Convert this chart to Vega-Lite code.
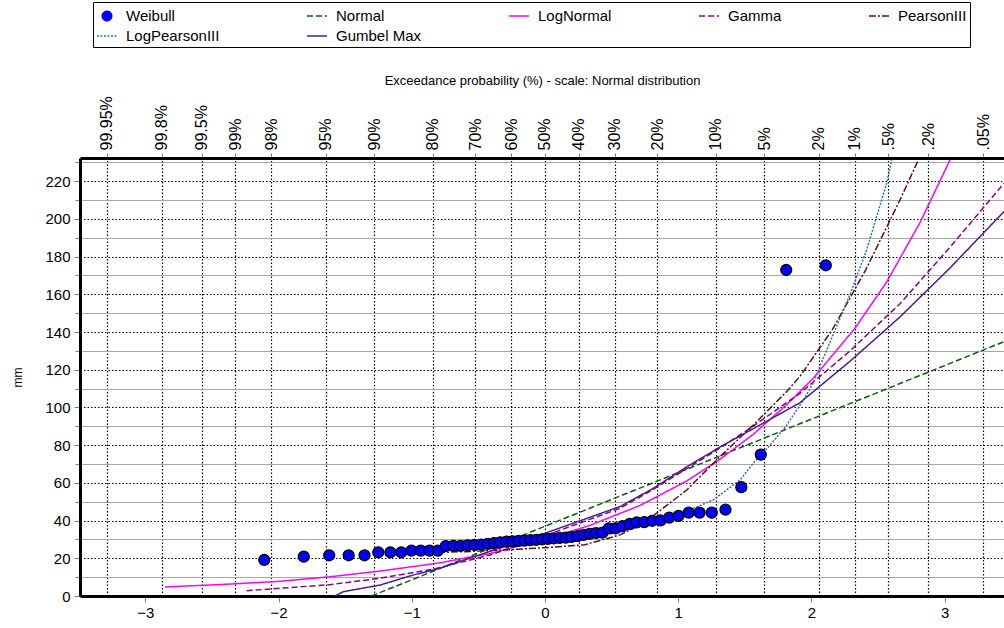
{
  "$schema": "https://vega.github.io/schema/vega-lite/v6.json",
  "width": 924,
  "height": 438,
  "autosize": {"type": "none"},
  "padding": {"left": 80, "top": 158, "right": 0, "bottom": 32},
  "config": {
    "font": "Liberation Sans",
    "view": {"stroke": null},
    "axis": {"labelColor": "black", "titleColor": "black", "labelFont": "Liberation Sans", "titleFont": "Liberation Sans"}
  },
  "datasets": {
    "weibull": [
      {"series": "Weibull", "z": -2.108, "mm": 19.1},
      {"series": "Weibull", "z": -1.811, "mm": 20.9},
      {"series": "Weibull", "z": -1.620, "mm": 21.6},
      {"series": "Weibull", "z": -1.474, "mm": 21.6},
      {"series": "Weibull", "z": -1.355, "mm": 21.6},
      {"series": "Weibull", "z": -1.252, "mm": 23.2},
      {"series": "Weibull", "z": -1.161, "mm": 23.2},
      {"series": "Weibull", "z": -1.079, "mm": 23.2},
      {"series": "Weibull", "z": -1.003, "mm": 24.1},
      {"series": "Weibull", "z": -0.933, "mm": 24.1},
      {"series": "Weibull", "z": -0.867, "mm": 24.1},
      {"series": "Weibull", "z": -0.805, "mm": 24.1},
      {"series": "Weibull", "z": -0.745, "mm": 26.5},
      {"series": "Weibull", "z": -0.688, "mm": 26.6},
      {"series": "Weibull", "z": -0.634, "mm": 26.6},
      {"series": "Weibull", "z": -0.581, "mm": 26.9},
      {"series": "Weibull", "z": -0.529, "mm": 27.1},
      {"series": "Weibull", "z": -0.479, "mm": 27.3},
      {"series": "Weibull", "z": -0.431, "mm": 27.6},
      {"series": "Weibull", "z": -0.383, "mm": 28.1},
      {"series": "Weibull", "z": -0.336, "mm": 28.5},
      {"series": "Weibull", "z": -0.290, "mm": 28.8},
      {"series": "Weibull", "z": -0.244, "mm": 29.0},
      {"series": "Weibull", "z": -0.199, "mm": 29.2},
      {"series": "Weibull", "z": -0.155, "mm": 29.4},
      {"series": "Weibull", "z": -0.110, "mm": 29.6},
      {"series": "Weibull", "z": -0.066, "mm": 29.8},
      {"series": "Weibull", "z": -0.022, "mm": 30.0},
      {"series": "Weibull", "z": 0.022, "mm": 30.3},
      {"series": "Weibull", "z": 0.066, "mm": 30.6},
      {"series": "Weibull", "z": 0.110, "mm": 30.8},
      {"series": "Weibull", "z": 0.155, "mm": 31.0},
      {"series": "Weibull", "z": 0.199, "mm": 31.3},
      {"series": "Weibull", "z": 0.244, "mm": 31.7},
      {"series": "Weibull", "z": 0.290, "mm": 32.4},
      {"series": "Weibull", "z": 0.336, "mm": 33.0},
      {"series": "Weibull", "z": 0.383, "mm": 33.4},
      {"series": "Weibull", "z": 0.431, "mm": 33.6},
      {"series": "Weibull", "z": 0.479, "mm": 35.9},
      {"series": "Weibull", "z": 0.529, "mm": 35.9},
      {"series": "Weibull", "z": 0.581, "mm": 37.0},
      {"series": "Weibull", "z": 0.634, "mm": 38.2},
      {"series": "Weibull", "z": 0.688, "mm": 39.0},
      {"series": "Weibull", "z": 0.745, "mm": 39.2},
      {"series": "Weibull", "z": 0.805, "mm": 39.9},
      {"series": "Weibull", "z": 0.867, "mm": 40.1},
      {"series": "Weibull", "z": 0.933, "mm": 41.6},
      {"series": "Weibull", "z": 1.003, "mm": 42.5},
      {"series": "Weibull", "z": 1.079, "mm": 44.2},
      {"series": "Weibull", "z": 1.161, "mm": 44.2},
      {"series": "Weibull", "z": 1.252, "mm": 44.2},
      {"series": "Weibull", "z": 1.355, "mm": 45.8},
      {"series": "Weibull", "z": 1.474, "mm": 57.7},
      {"series": "Weibull", "z": 1.620, "mm": 75.0},
      {"series": "Weibull", "z": 1.811, "mm": 172.9},
      {"series": "Weibull", "z": 2.108, "mm": 175.4}
    ],
    "curves": [
      {"series": "Normal", "z": -1.303, "mm": 0},
      {"series": "Normal", "z": -1.0, "mm": 8.6},
      {"series": "Normal", "z": 0.0, "mm": 37.0},
      {"series": "Normal", "z": 1.0, "mm": 65.4},
      {"series": "Normal", "z": 2.0, "mm": 93.8},
      {"series": "Normal", "z": 3.0, "mm": 122.2},
      {"series": "Normal", "z": 3.446, "mm": 134.9},

      {"series": "LogNormal", "z": -2.853, "mm": 4.8},
      {"series": "LogNormal", "z": -2.4, "mm": 6.2},
      {"series": "LogNormal", "z": -1.989, "mm": 7.8},
      {"series": "LogNormal", "z": -1.614, "mm": 10.2},
      {"series": "LogNormal", "z": -1.239, "mm": 13.2},
      {"series": "LogNormal", "z": -0.788, "mm": 17.6},
      {"series": "LogNormal", "z": -0.413, "mm": 22.6},
      {"series": "LogNormal", "z": 0.0, "mm": 30.0},
      {"series": "LogNormal", "z": 0.338, "mm": 37.5},
      {"series": "LogNormal", "z": 0.713, "mm": 48.0},
      {"series": "LogNormal", "z": 1.064, "mm": 61.0},
      {"series": "LogNormal", "z": 1.314, "mm": 72.5},
      {"series": "LogNormal", "z": 1.564, "mm": 85.8},
      {"series": "LogNormal", "z": 1.815, "mm": 101.5},
      {"series": "LogNormal", "z": 2.014, "mm": 115.5},
      {"series": "LogNormal", "z": 2.327, "mm": 142.0},
      {"series": "LogNormal", "z": 2.565, "mm": 166.5},
      {"series": "LogNormal", "z": 2.815, "mm": 198.0},
      {"series": "LogNormal", "z": 3.041, "mm": 231.3},

      {"series": "Gamma", "z": -2.24, "mm": 2.8},
      {"series": "Gamma", "z": -1.989, "mm": 4.1},
      {"series": "Gamma", "z": -1.614, "mm": 6.0},
      {"series": "Gamma", "z": -1.239, "mm": 9.4},
      {"series": "Gamma", "z": -0.841, "mm": 14.2},
      {"series": "Gamma", "z": -0.4, "mm": 22.0},
      {"series": "Gamma", "z": 0.0, "mm": 32.0},
      {"series": "Gamma", "z": 0.563, "mm": 46.5},
      {"series": "Gamma", "z": 0.811, "mm": 56.5},
      {"series": "Gamma", "z": 1.064, "mm": 67.5},
      {"series": "Gamma", "z": 1.314, "mm": 78.5},
      {"series": "Gamma", "z": 1.562, "mm": 90.0},
      {"series": "Gamma", "z": 1.914, "mm": 107.5},
      {"series": "Gamma", "z": 2.29, "mm": 130.0},
      {"series": "Gamma", "z": 2.665, "mm": 155.0},
      {"series": "Gamma", "z": 3.041, "mm": 185.0},
      {"series": "Gamma", "z": 3.446, "mm": 218.9},

      {"series": "PearsonIII", "z": -0.9, "mm": 22.8},
      {"series": "PearsonIII", "z": -0.5, "mm": 23.8},
      {"series": "PearsonIII", "z": -0.2, "mm": 24.8},
      {"series": "PearsonIII", "z": 0.04, "mm": 25.8},
      {"series": "PearsonIII", "z": 0.3, "mm": 27.2},
      {"series": "PearsonIII", "z": 0.563, "mm": 32.4},
      {"series": "PearsonIII", "z": 0.713, "mm": 37.5},
      {"series": "PearsonIII", "z": 0.811, "mm": 42.5},
      {"series": "PearsonIII", "z": 1.064, "mm": 56.2},
      {"series": "PearsonIII", "z": 1.314, "mm": 73.9},
      {"series": "PearsonIII", "z": 1.562, "mm": 90.5},
      {"series": "PearsonIII", "z": 1.815, "mm": 108.5},
      {"series": "PearsonIII", "z": 1.914, "mm": 116.5},
      {"series": "PearsonIII", "z": 2.155, "mm": 141.0},
      {"series": "PearsonIII", "z": 2.408, "mm": 173.0},
      {"series": "PearsonIII", "z": 2.665, "mm": 210.0},
      {"series": "PearsonIII", "z": 2.803, "mm": 231.3},

      {"series": "LogPearsonIII", "z": -0.9, "mm": 24.5},
      {"series": "LogPearsonIII", "z": -0.5, "mm": 26.0},
      {"series": "LogPearsonIII", "z": 0.0, "mm": 28.5},
      {"series": "LogPearsonIII", "z": 0.3, "mm": 30.5},
      {"series": "LogPearsonIII", "z": 0.563, "mm": 34.0},
      {"series": "LogPearsonIII", "z": 0.811, "mm": 38.5},
      {"series": "LogPearsonIII", "z": 1.064, "mm": 45.0},
      {"series": "LogPearsonIII", "z": 1.264, "mm": 51.0},
      {"series": "LogPearsonIII", "z": 1.464, "mm": 61.5},
      {"series": "LogPearsonIII", "z": 1.564, "mm": 70.5},
      {"series": "LogPearsonIII", "z": 1.689, "mm": 80.0},
      {"series": "LogPearsonIII", "z": 1.814, "mm": 90.5},
      {"series": "LogPearsonIII", "z": 1.94, "mm": 104.0},
      {"series": "LogPearsonIII", "z": 2.014, "mm": 113.0},
      {"series": "LogPearsonIII", "z": 2.065, "mm": 122.0},
      {"series": "LogPearsonIII", "z": 2.29, "mm": 160.0},
      {"series": "LogPearsonIII", "z": 2.415, "mm": 183.6},
      {"series": "LogPearsonIII", "z": 2.565, "mm": 218.9},
      {"series": "LogPearsonIII", "z": 2.603, "mm": 231.3},

      {"series": "Gumbel Max", "z": -1.577, "mm": 0},
      {"series": "Gumbel Max", "z": -1.514, "mm": 2.3},
      {"series": "Gumbel Max", "z": -1.239, "mm": 5.8},
      {"series": "Gumbel Max", "z": -0.991, "mm": 11.1},
      {"series": "Gumbel Max", "z": -0.788, "mm": 14.7},
      {"series": "Gumbel Max", "z": -0.4, "mm": 24.0},
      {"series": "Gumbel Max", "z": 0.0, "mm": 33.3},
      {"series": "Gumbel Max", "z": 0.563, "mm": 47.4},
      {"series": "Gumbel Max", "z": 0.811, "mm": 57.0},
      {"series": "Gumbel Max", "z": 1.064, "mm": 68.5},
      {"series": "Gumbel Max", "z": 1.314, "mm": 79.0},
      {"series": "Gumbel Max", "z": 1.637, "mm": 91.6},
      {"series": "Gumbel Max", "z": 1.914, "mm": 102.5},
      {"series": "Gumbel Max", "z": 2.29, "mm": 124.5},
      {"series": "Gumbel Max", "z": 2.665, "mm": 148.0},
      {"series": "Gumbel Max", "z": 3.041, "mm": 174.0},
      {"series": "Gumbel Max", "z": 3.446, "mm": 203.9}
    ]
  },
  "layer": [
    {
      "data": {"name": "weibull"},
      "mark": {"type": "point", "opacity": 0},
      "encoding": {
        "x": {
          "field": "z", "type": "quantitative",
          "scale": {"domain": [-3.491, 3.446], "nice": false, "zero": false},
          "axis": {
            "orient": "top",
            "values": [-3.2905, -2.8782, -2.5758, -2.3263, -2.0537, -1.6449, -1.2816, -0.8416, -0.5244, -0.2533, 0, 0.2533, 0.5244, 0.8416, 1.2816, 1.6449, 2.0537, 2.3263, 2.5758, 2.8782, 3.2905],
            "labelExpr": "replace('' + round((1 - cumulativeNormal(datum.value)) * 10000) / 100, '0.', '.') + '%'",
            "labelAngle": 270,
            "labelAlign": "left",
            "labelBaseline": "middle",
            "labelFontSize": 16,
            "labelPadding": 3,
            "labelOverlap": false,
            "ticks": true, "tickColor": "#808080", "tickSize": 5,
            "domain": true, "domainColor": "black", "domainWidth": 3,
            "grid": true, "gridColor": "black", "gridDash": [1.5, 2], "gridWidth": 1.2,
            "title": "Exceedance probability  (%) - scale: Normal distribution",
            "titleFontSize": 13, "titleFontWeight": "normal", "titlePadding": 8
          }
        },
        "y": {
          "field": "mm", "type": "quantitative",
          "scale": {"domain": [0, 232.3], "nice": false, "zero": false},
          "axis": {
            "orient": "left",
            "values": [10, 30, 50, 70, 90, 110, 130, 150, 170, 190, 210, 230],
            "labels": false, "domain": false,
            "ticks": true, "tickColor": "#808080", "tickSize": 5,
            "grid": true, "gridColor": "#a8a8a8", "gridWidth": 1,
            "title": null
          }
        }
      }
    },
    {
      "data": {"name": "curves"},
      "mark": {"type": "line", "clip": true, "strokeWidth": 1.5},
      "encoding": {
        "x": {
          "field": "z", "type": "quantitative",
          "scale": {"domain": [-3.491, 3.446], "nice": false, "zero": false},
          "axis": {
            "orient": "bottom",
            "values": [-3, -2, -1, 0, 1, 2, 3],
            "grid": false,
            "domainColor": "black", "domainWidth": 3,
            "tickColor": "#808080", "tickSize": 6,
            "labelFontSize": 15, "labelPadding": 3,
            "title": null
          }
        },
        "y": {
          "field": "mm", "type": "quantitative",
          "scale": {"domain": [0, 232.3], "nice": false, "zero": false},
          "axis": {
            "orient": "left",
            "values": [0, 20, 40, 60, 80, 100, 120, 140, 160, 180, 200, 220],
            "grid": true, "gridColor": "black", "gridDash": [1.5, 2], "gridWidth": 1.2,
            "domainColor": "black", "domainWidth": 3,
            "tickColor": "#808080", "tickSize": 6,
            "labelFontSize": 15, "labelPadding": 4,
            "title": "mm", "titleFontSize": 12, "titleFontWeight": "normal", "titlePadding": 20
          }
        },
        "color": {
          "field": "series", "type": "nominal",
          "scale": {
            "domain": ["Weibull", "Normal", "LogNormal", "Gamma", "PearsonIII", "LogPearsonIII", "Gumbel Max"],
            "range": ["#0000ff", "#0b5d0b", "#ff00ff", "#8b008b", "#5a1010", "#2f6fb0", "#4b1c8c"]
          },
          "legend": {
            "orient": "none", "legendX": 13, "legendY": -156,
            "columns": 5, "gridAlign": "each", "columnPadding": 84, "rowPadding": 1,
            "direction": "horizontal",
            "title": null,
            "symbolType": "stroke", "symbolSize": 400, "symbolStrokeWidth": 1.5,
            "labelFontSize": 15, "labelFont": "Liberation Sans", "labelColor": "black", "labelOffset": 8, "labelLimit": 300,
            "strokeColor": "black", "padding": 3,
            "encode": {
              "symbols": {
                "update": {
                  "shape": {"signal": "datum.value === 'Weibull' ? 'circle' : 'stroke'"},
                  "size": {"signal": "datum.value === 'Weibull' ? 90 : 400"},
                  "fill": {"signal": "datum.value === 'Weibull' ? '#0000ff' : 'transparent'"},
                  "stroke": {"signal": "datum.value === 'Weibull' ? '#000000' : scale('color', datum.value)"},
                  "strokeDash": {"signal": "datum.value === 'Normal' || datum.value === 'Gamma' ? [3, 2] : datum.value === 'PearsonIII' ? [3, 2, 1, 2] : datum.value === 'LogPearsonIII' ? [1, 1] : [1, 0]"},
                  "strokeWidth": {"value": 1.5},
                  "opacity": {"value": 1}
                }
              }
            }
          }
        },
        "strokeDash": {
          "field": "series", "type": "nominal",
          "scale": {
            "domain": ["Weibull", "Normal", "LogNormal", "Gamma", "PearsonIII", "LogPearsonIII", "Gumbel Max"],
            "range": [[1, 0], [6, 3], [1, 0], [6, 3], [7, 2, 2, 2], [2, 1.5], [1, 0]]
          },
          "legend": null
        }
      }
    },
    {
      "data": {"name": "weibull"},
      "mark": {"type": "point", "filled": true, "opacity": 1, "size": 120, "stroke": "black", "strokeWidth": 1.3},
      "encoding": {
        "x": {"field": "z", "type": "quantitative", "axis": null},
        "y": {"field": "mm", "type": "quantitative", "axis": null},
        "color": {"field": "series", "type": "nominal"}
      }
    }
  ],
  "resolve": {"axis": {"x": "independent", "y": "independent"}}
}
